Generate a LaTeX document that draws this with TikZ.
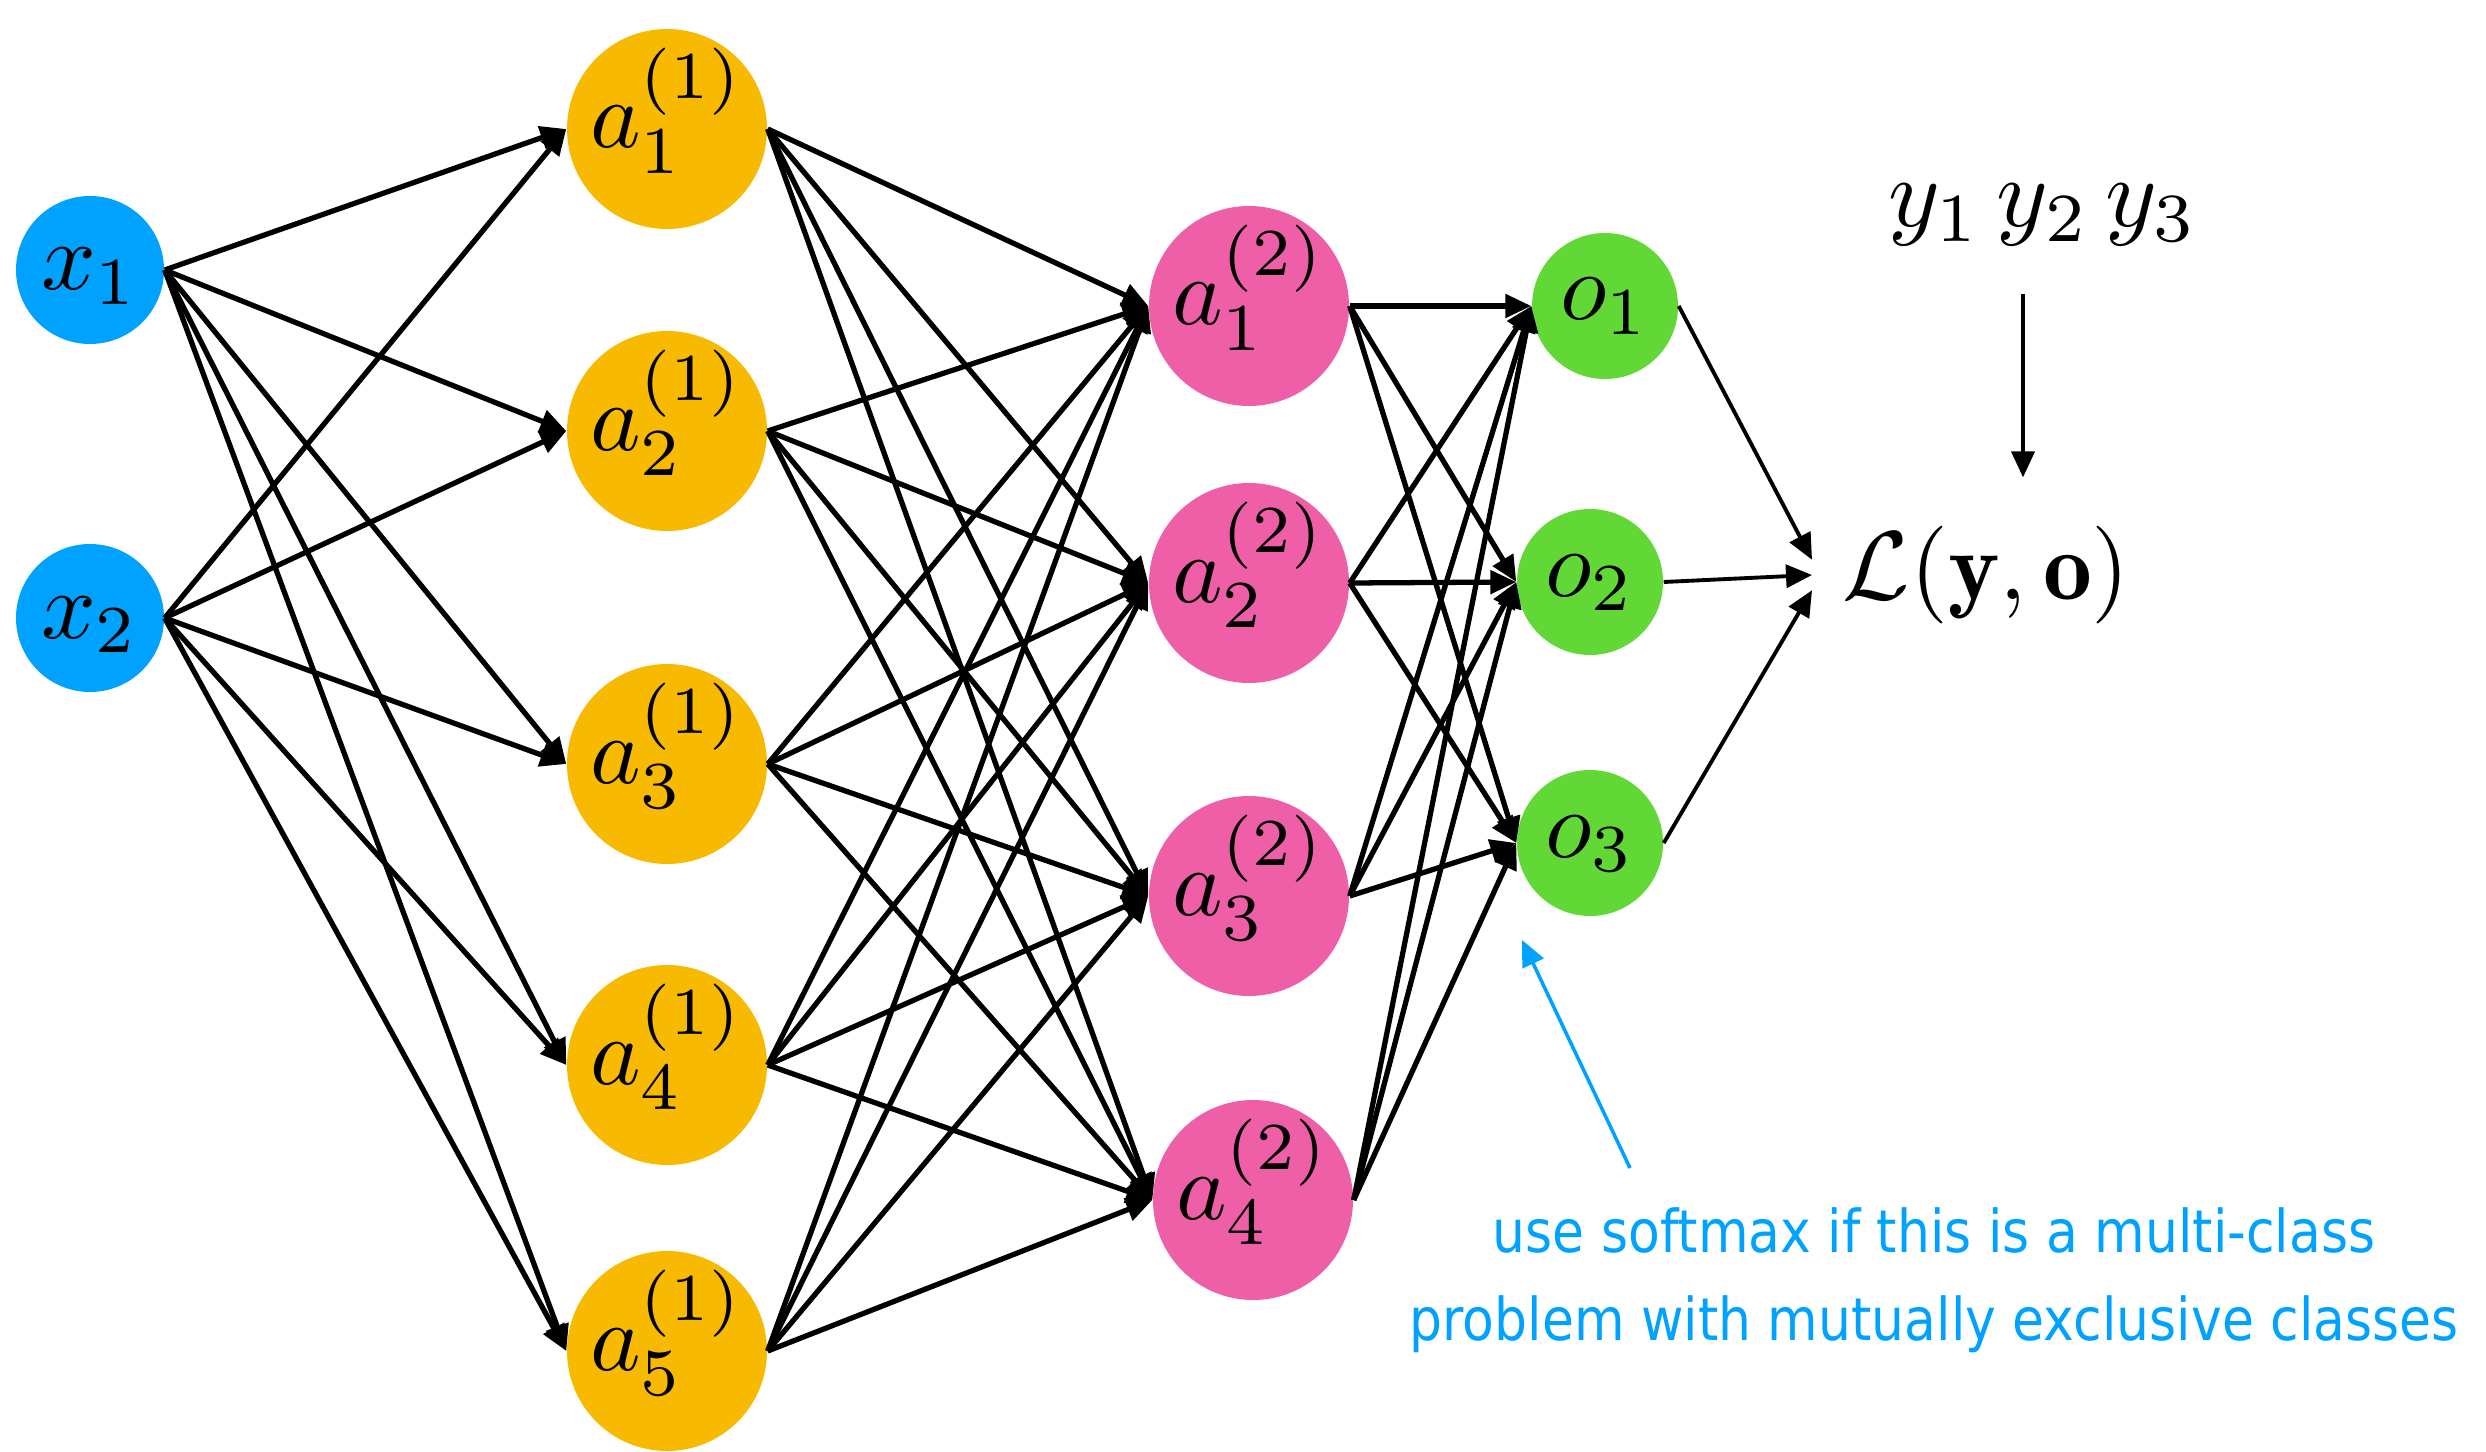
\documentclass[tikz,border=0pt]{standalone}
\usepackage{fontspec}
\usepackage{graphicx}
\usepackage{tikz}
\usetikzlibrary{arrows.meta,positioning,calc}
\newfontfamily\notefont[FakeStretch=0.88]{DejaVu Sans}
\definecolor{inblue}{HTML}{00A2FF}
\definecolor{hidgold}{HTML}{F8BA00}
\definecolor{hidpink}{HTML}{EF5FA7}
\definecolor{outgreen}{HTML}{61D836}
\newcommand{\lbl}[2][2.73]{\scalebox{#1}{$#2$}}

\begin{document}
\begin{tikzpicture}[
  >={Triangle[length=2.6mm,width=2.3mm]},
  inp/.style={circle, fill=inblue, minimum size=1.48cm, inner sep=0pt, text height=0.45cm, text depth=0.05cm},
  hidA/.style={circle, fill=hidgold, minimum size=2.0cm, inner sep=0pt, text height=0.5cm, text depth=0.12cm},
  hidB/.style={hidA, fill=hidpink},
  outp/.style={circle, fill=outgreen, minimum size=1.46cm, inner sep=0pt, text height=0.36cm, text depth=0.08cm},
  arr/.style={->, line width=1.5pt},
  lossarr/.style={->, line width=1.1pt},
  notearr/.style={->, line width=1.0pt, color=inblue}
]
\useasboundingbox (0,0) rectangle (24.86,14.51);
% Inputs
\node[inp] (x1) at (0.90,11.81) {\lbl{x_1}};
\node[inp] (x2) at (0.90,8.33) {\lbl{x_2}};
% First hidden layer
\foreach \i/\y in {1/13.22,2/10.20,3/6.87,4/3.86,5/1.00}
  \node[hidA] (h\i) at (6.67,\y) {\lbl{a_{\i}^{(1)}}};
% Second hidden layer
\node[hidB] (g1) at (12.49,11.45) {\lbl{a_1^{(2)}}};
\node[hidB] (g2) at (12.49,8.68) {\lbl{a_2^{(2)}}};
\node[hidB] (g3) at (12.49,5.55) {\lbl{a_3^{(2)}}};
\node[hidB] (g4) at (12.53,2.51) {\lbl{a_4^{(2)}}};
% Outputs
\node[outp] (o1) at (16.05,11.45) {\lbl{o_1}};
\node[outp] (o2) at (15.90,8.69) {\lbl{o_2}};
\node[outp] (o3) at (15.90,6.08) {\lbl{o_3}};
% Loss
\node[inner sep=0.3cm, anchor=west] (loss) at (18.12,8.76) {\lbl[2.78]{\mathcal{L}(\mathbf{y},\mathbf{o})}};
\node[inner sep=0pt] (ylab) at (20.43,12.36) {\lbl[2.8]{y_1\,y_2\,y_3}};
% Note
\node[font=\notefont\fontsize{16.8}{25}\selectfont, text=inblue, align=center, anchor=base] (note) at (19.34,1.11)
  {use softmax if this is a multi-class\\problem with mutually exclusive classes};
\coordinate (notetail) at (16.30,2.83);
% arrows
\foreach \s in {x1,x2} {\foreach \t in {1,...,5} {\draw[arr] (\s.east) -- (h\t.west);}}
\foreach \s in {1,...,5} {\foreach \t in {1,...,4} {\draw[arr] (h\s.east) -- (g\t.west);}}
\foreach \s in {1,...,4} {\foreach \t in {1,2,3} {\draw[arr] (g\s.east) -- (o\t.west);}}
\draw[lossarr] (o1.east) -- (loss.175);
\draw[lossarr] (o2.east) -- (loss.west);
\draw[lossarr] (o3.east) -- (loss.185);
\draw[lossarr, shorten <=0.48cm, shorten >=0.18cm] ([xshift=-0.2cm]ylab.south) -- ([xshift=-0.2cm]ylab.south |- loss.north);
\draw[notearr] (notetail) -- ([shift={(-0.68,-0.97)}]o3.center);
\end{tikzpicture}
\end{document}
